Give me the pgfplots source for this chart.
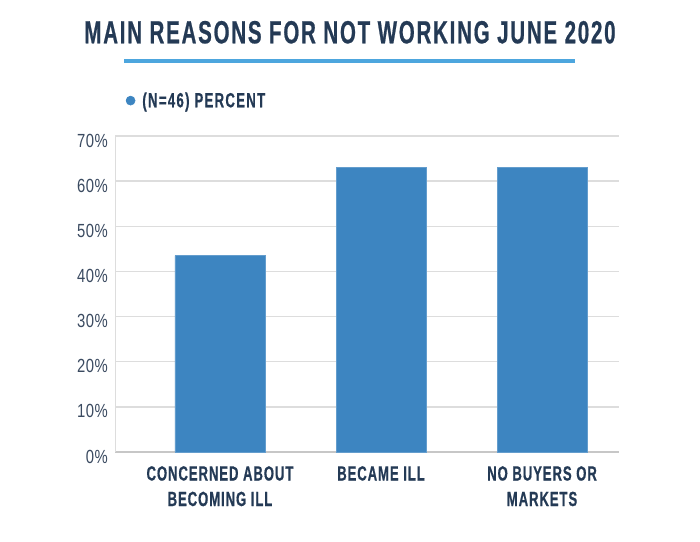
\documentclass[border=0pt]{standalone}
\usepackage{fontspec}
\setmainfont{Liberation Sans}[FakeStretch=0.64, LetterSpace=4.5, BoldFeatures={FakeBold=0.6}]
\newfontfamily\tickfont{Liberation Sans}[FakeStretch=0.78, LetterSpace=3]
\usepackage{pgfplots}
\pgfplotsset{compat=1.18}

\definecolor{navy}{HTML}{243A55}
\definecolor{ticknavy}{HTML}{3A4A60}
\definecolor{barblue}{HTML}{3D85C1}
\definecolor{lineblue}{HTML}{4DA6DE}
\definecolor{gridgray}{HTML}{DDDDDD}

\begin{document}
\begin{tikzpicture}[x=1pt,y=1pt]
\useasboundingbox (0,0) rectangle (700,541);
\begin{axis}[
  at={(115pt,89pt)}, anchor=south west,
  scale only axis, width=504pt, height=316pt,
  ybar, bar width=90pt,
  xmin=-0.652, xmax=2.478,
  ymin=0, ymax=70, ytick distance=10,
  xtick=data,
  xticklabels={{CONCERNED ABOUT\\BECOMING ILL}, {BECAME ILL}, {NO BUYERS OR\\MARKETS}},
  x tick label style={align=center, inner sep=0pt, font=\bfseries\fontsize{20.5}{25.5}\selectfont, text=navy, yshift=-14pt},
  yticklabel={\pgfmathprintnumber{\tick}\%},
  y tick label style={inner sep=0pt, font=\tickfont\fontsize{19}{22}\selectfont, text=ticknavy, xshift=-7pt, yshift=-4.5pt},
  /pgf/number format/assume math mode=true,
  axis x line*=bottom, axis y line*=left,
  x axis line style={draw=gridgray!90!black, line width=1.5pt, -},
  y axis line style={draw=gridgray, line width=1pt, -},
  major tick length=0pt, tick style={draw=none},
  ymajorgrids, grid style={gridgray, line width=1.5pt},
  legend style={at={(axis description cs:0.021,1.112)}, anchor=west, draw=none, fill=none,
    inner sep=0pt, font=\bfseries\fontsize{20.5}{22}\selectfont\addfontfeatures{LetterSpace=6.5}, text=navy,
    nodes={inner sep=3pt}},
  legend image code/.code={\path (0pt,0pt) (13pt,0pt); \fill[barblue] (4.5pt,0pt) circle (4.5pt);},
]
\addplot[fill=barblue, draw=barblue!80!white, line width=0.6pt] coordinates {(0,43.5) (1,63.0) (2,63.0)};
\addlegendentry{(N=46) PERCENT}
\end{axis}
\node[anchor=base, inner sep=0pt, font=\bfseries\fontsize{32}{36}\selectfont\addfontfeatures{LetterSpace=5.6}, text=navy] at (350,497.7) {MAIN REASONS FOR NOT WORKING JUNE 2020};
\draw[lineblue, line width=4pt] (124.3,479.7) -- (575,479.7);
\end{tikzpicture}
\end{document}
